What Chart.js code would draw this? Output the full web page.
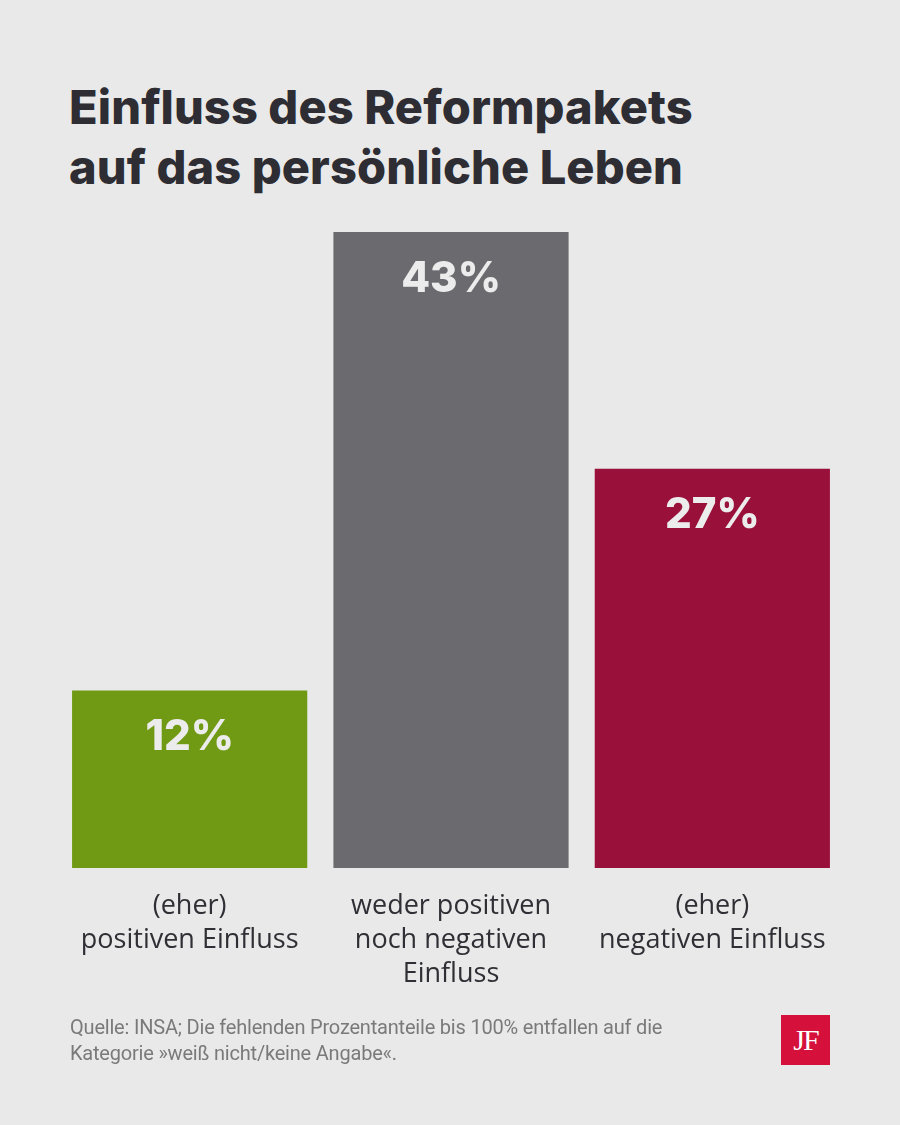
<!DOCTYPE html>
<html>
<head>
<meta charset="utf-8">
<script src="https://cdn.jsdelivr.net/npm/chart.js@4"></script>
<style>
  html, body { margin: 0; padding: 0; background: #e9e9e9; }
  #wrap { position: relative; width: 900px; height: 1125px; overflow: hidden; }
  #title {
    position: absolute; left: 69px; top: 77px;
    font-family: Inter, "Noto Sans", sans-serif; font-weight: 800;
    font-size: 47px; line-height: 60px; color: #2d2d33; letter-spacing: 0.1px;
  }
  #note {
    position: absolute; left: 70px; top: 1014px;
    font-family: Roboto, sans-serif;
    font-size: 20px; line-height: 26px; color: #7a7a7a; letter-spacing: -0.2px;
  }
  #logo {
    position: absolute; left: 781px; top: 1015px; width: 49px; height: 50px;
    background: #d4103b; color: #fff; text-align: center;
    font-family: "Liberation Serif", "DejaVu Serif", serif; font-size: 30px; line-height: 50px;
    letter-spacing: -2px;
  }
  canvas { position: absolute; left: 0; top: 0; }
</style>
</head>
<body>
<div id="wrap">
  <div id="title">Einfluss des Reformpakets<br>auf das persönliche Leben</div>
  <canvas id="myChart" width="900" height="1125"></canvas>
  <div id="note">Quelle: INSA; Die fehlenden Prozentanteile bis 100% entfallen auf die<br>Kategorie »weiß nicht/keine Angabe«.</div>
  <div id="logo">JF</div>
</div>
<script>
// daten
const kategorien = [
  ['(eher)', 'positiven Einfluss'],
  ['weder positiven', 'noch negativen', 'Einfluss'],
  ['(eher)', 'negativen Einfluss']
];
const werte = [12, 43, 27];
const farben = ['#709a14', '#6b6a6f', '#99103a'];

// prozentwerte in die balken schreiben
const barLabels = {
  id: 'barLabels',
  afterDatasetsDraw(chart) {
    const ctx = chart.ctx;
    const meta = chart.getDatasetMeta(0);
    ctx.save();
    ctx.fillStyle = '#ececec';
    ctx.font = '800 42px Inter, "Noto Sans", sans-serif';
    ctx.textAlign = 'center';
    ctx.textBaseline = 'middle';
    meta.data.forEach(function (bar, i) {
      ctx.fillText(werte[i] + '%', bar.x, bar.y + 47);
    });
    ctx.restore();
  }
};

var ctx = document.getElementById('myChart');
var graphique = new Chart(ctx.getContext('2d'), {
  type: 'bar',
  data: {
    labels: kategorien,
    datasets: [{
      data: werte,
      backgroundColor: farben,
      borderWidth: 0,
      categoryPercentage: 1,
      barPercentage: 0.9
    }]
  },
  options: {
    responsive: false,
    animation: false,
    layout: { padding: { left: 59, right: 57, top: 232, bottom: 121 } },
    plugins: { legend: { display: false }, tooltip: { enabled: false } },
    scales: {
      x: {
        grid: { display: false },
        border: { display: false },
        ticks: {
          color: '#2f2f35',
          padding: 13,
          maxRotation: 0,
          font: { family: '"Open Sans", "Noto Sans", sans-serif', size: 27, lineHeight: 1.26 }
        }
      },
      y: {
        display: false,
        min: 0,
        max: 43
      }
    }
  },
  plugins: [barLabels]
});
</script>
</body>
</html>
